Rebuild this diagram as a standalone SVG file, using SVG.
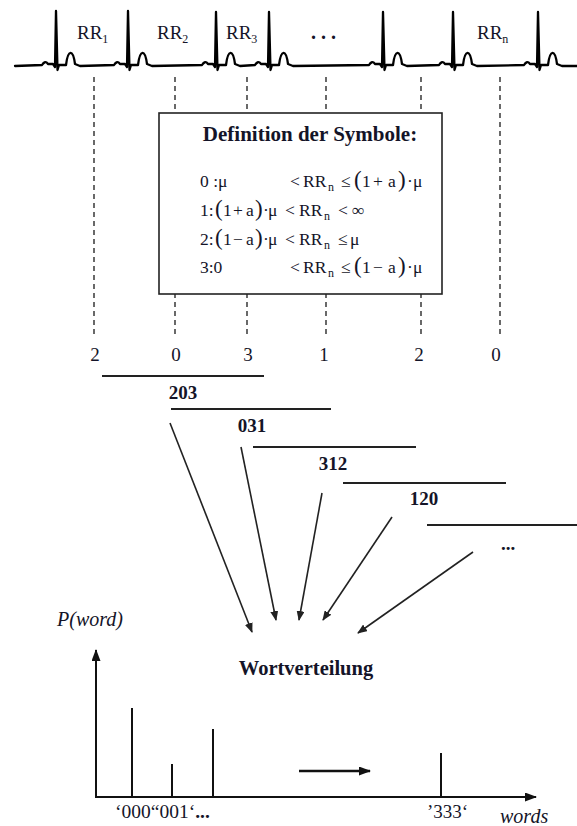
<svg xmlns="http://www.w3.org/2000/svg" width="577" height="826" viewBox="0 0 577 826">
<defs>
<style>
.ecg{fill:none;stroke:#000;stroke-width:2.3;stroke-linejoin:round;stroke-linecap:round}
.dash{stroke:#444;stroke-width:1.6;stroke-dasharray:5 4;fill:none}
.ln{stroke:#222;stroke-width:2;fill:none}
.arr{stroke:#222;stroke-width:1.6;fill:none;marker-end:url(#ah)}
.t{font-family:"Liberation Serif","Times New Roman",serif;fill:#141428}
.b{font-weight:bold}
.i{font-style:italic}
.m{font-size:17.5px}
.p{font-size:23px}
.s{font-size:12px}
</style>
<marker id="ah" markerWidth="10" markerHeight="8" refX="9" refY="4" orient="auto" markerUnits="userSpaceOnUse">
<path d="M0,0 L10,4 L0,8 Z" fill="#222"/>
</marker>
<marker id="ah2" markerWidth="12" markerHeight="9" refX="11" refY="4.5" orient="auto" markerUnits="userSpaceOnUse">
<path d="M0,0 L12,4.5 L0,9 Z" fill="#111"/>
</marker>
</defs>
<rect width="577" height="826" fill="#fff"/>

<g id="ecg">
<path class="ecg" d="M15,66 L42,65 Q45,60 48,64 L53,64 L55,67 L56,11 L57.5,70 L59,65 L66,65 C68,49 73,49 75,64 L80,66
L114,65 Q117,60 120,64 L125,64 L127,67 L128,11 L129.5,70 L131,65 L138,65 C140,49 145,49 147,64 L152,66
L202,65 Q205,60 208,64 L213,64 L215,67 L216,12 L217.5,70 L219,65 L226,65 C228,49 233,49 235,64 L240,66
L255,65 Q258,60 261,64 L266,64 L268,67 L269,12 L270.5,70 L272,65 L279,65 C281,49 286,49 288,64 L293,66
L369,65 Q372,60 375,64 L380,64 L382,67 L383,12 L384.5,70 L386,65 L393,65 C395,49 400,49 402,64 L407,66
L439,65 Q442,60 445,64 L450,64 L452,67 L453,12 L454.5,70 L456,65 L463,65 C465,49 470,49 472,64 L477,66
L524,65 Q527,60 530,64 L535,64 L537,67 L538,12 L539.5,70 L541,65 L548,65 C550,49 555,49 557,64 L562,66 L577,66"/>
<text class="t" x="77" y="39" font-size="19">RR<tspan font-size="12" dy="4">1</tspan></text>
<text class="t" x="157" y="39" font-size="19">RR<tspan font-size="12" dy="4">2</tspan></text>
<text class="t" x="226" y="39" font-size="19">RR<tspan font-size="12" dy="4">3</tspan></text>
<text class="t b" x="311" y="39" font-size="20">. . .</text>
<text class="t" x="477" y="39" font-size="19">RR<tspan font-size="12" dy="4">n</tspan></text>
</g>

<g id="dashes">
<path class="dash" d="M94,77 V337 M175,77 V337 M247,77 V337 M326,77 V337 M421,77 V337 M500,77 V337"/>
</g>

<g id="definition">
<rect x="159" y="113" width="283" height="181" fill="#fff" stroke="#222" stroke-width="1.6"/>
<text class="t b" x="310" y="141" font-size="21" text-anchor="middle">Definition der Symbole:</text>
<text class="t m" y="187"><tspan x="200">0 :μ</tspan><tspan x="290">&lt;</tspan><tspan x="303">RR</tspan><tspan class="s" x="328" dy="4">n</tspan><tspan x="341" dy="-4">≤</tspan><tspan class="p" x="354">(</tspan><tspan x="362">1</tspan><tspan x="373">+</tspan><tspan x="388">a</tspan><tspan class="p" x="398">)</tspan><tspan x="407">·</tspan><tspan x="413">μ</tspan></text>
<text class="t m" y="216"><tspan x="200">1:</tspan><tspan class="p" x="215">(</tspan><tspan x="223">1</tspan><tspan x="233">+</tspan><tspan x="246">a</tspan><tspan class="p" x="255">)</tspan><tspan x="263">·</tspan><tspan x="268">μ</tspan><tspan x="285">&lt;</tspan><tspan x="299">RR</tspan><tspan class="s" x="324" dy="4">n</tspan><tspan x="338" dy="-4">&lt;</tspan><tspan x="352">∞</tspan></text>
<text class="t m" y="245"><tspan x="200">2:</tspan><tspan class="p" x="215">(</tspan><tspan x="223">1</tspan><tspan x="233">−</tspan><tspan x="246">a</tspan><tspan class="p" x="255">)</tspan><tspan x="263">·</tspan><tspan x="268">μ</tspan><tspan x="285">&lt;</tspan><tspan x="299">RR</tspan><tspan class="s" x="324" dy="4">n</tspan><tspan x="338" dy="-4">≤</tspan><tspan x="350">μ</tspan></text>
<text class="t m" y="273"><tspan x="200">3:0</tspan><tspan x="290">&lt;</tspan><tspan x="303">RR</tspan><tspan class="s" x="328" dy="4">n</tspan><tspan x="341" dy="-4">≤</tspan><tspan class="p" x="354">(</tspan><tspan x="362">1</tspan><tspan x="373">−</tspan><tspan x="388">a</tspan><tspan class="p" x="398">)</tspan><tspan x="407">·</tspan><tspan x="413">μ</tspan></text>
</g>

<g id="symbols">
<text class="t" y="361" font-size="19" text-anchor="middle"><tspan x="95">2</tspan><tspan x="176">0</tspan><tspan x="248">3</tspan><tspan x="324">1</tspan><tspan x="419">2</tspan><tspan x="496">0</tspan></text>
</g>

<g id="words">
<path class="ln" d="M102,376 H264 M171,409 H331 M253,447 H416 M343,483 H506 M427,525 H577"/>
<text class="t b" x="183" y="399" font-size="19" text-anchor="middle">203</text>
<text class="t b" x="252" y="432" font-size="19" text-anchor="middle">031</text>
<text class="t b" x="333" y="470" font-size="19" text-anchor="middle">312</text>
<text class="t b" x="424" y="505" font-size="19" text-anchor="middle">120</text>
<text class="t b" x="508" y="550" font-size="19" text-anchor="middle">...</text>
</g>

<g id="connectors">
<path class="arr" d="M170,423 L252,632"/>
<path class="arr" d="M241,447 L276,620"/>
<path class="arr" d="M322,493 L299,620"/>
<path class="arr" d="M392,517 L323,620"/>
<path class="arr" d="M473,552 L358,633"/>
</g>

<g id="distribution">
<text class="t b" x="306" y="675" font-size="20.5" text-anchor="middle">Wortverteilung</text>
<text class="t i" x="57" y="626" font-size="20">P(word)</text>
<path d="M96,797 V650" stroke="#111" stroke-width="2" fill="none" marker-end="url(#ah2)"/>
<path d="M95,797 H536" stroke="#111" stroke-width="2" fill="none" marker-end="url(#ah2)"/>
<path d="M132,797 V708 M172,797 V764 M213,797 V729 M441,797 V753" stroke="#111" stroke-width="2" fill="none"/>
<path d="M299,771 H370" stroke="#111" stroke-width="2.5" fill="none" marker-end="url(#ah2)"/>
<text class="t" x="115" y="818" font-size="19.5">‘000“001‘<tspan class="b">...</tspan></text>
<text class="t" x="427" y="818" font-size="19">’333‘</text>
<text class="t i" x="500" y="823" font-size="20">words</text>
</g>
</svg>
